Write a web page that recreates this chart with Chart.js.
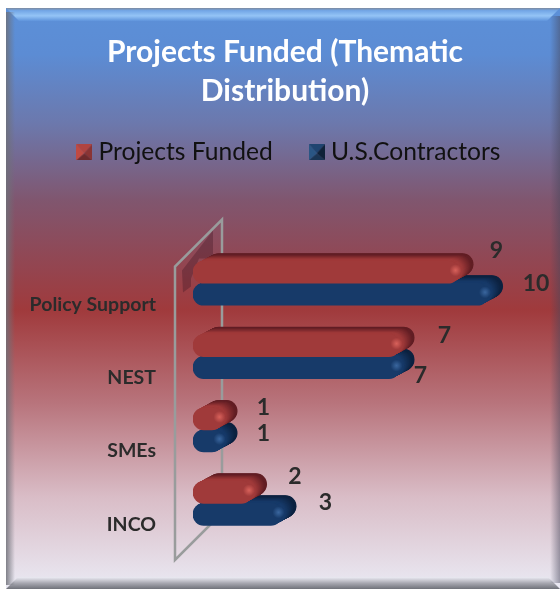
<!DOCTYPE html>
<html>
<head>
<meta charset="utf-8">
<title>Projects Funded</title>
<script src="https://cdn.jsdelivr.net/npm/chart.js@4"></script>
<style>
  html, body { margin: 0; padding: 0; background: #fff; }
  canvas { display: block; }
</style>
</head>
<body>
<canvas id="chart" width="560" height="589"></canvas>
<script>
const categories = ["Policy Support", "NEST", "SMEs", "INCO"];
const projectsFunded = [9, 7, 1, 2];
const usContractors = [10, 7, 1, 3];
const seriesNames = ["Projects Funded", "U.S.Contractors"];

// label nudges from the end of each bar, the original chart places them by hand
const labelNudges = [
  [[23, -22], [30, -10], [26, -11], [28, -16]],
  [[33, -11], [6, 8], [26, -7], [29, -12]]
];

const depthX = 15;
const depthY = 8;

const palette = [
  { front: [160, 58, 58], edge: [98, 30, 36], glow: "226,104,96" },
  { front: [23, 58, 105], edge: [12, 34, 64], glow: "64,110,168" }
];

// small pyramid marker for the legend
function legendMarker(light, mid, dark, side) {
  const c = document.createElement("canvas");
  c.width = c.height = 16;
  const g = c.getContext("2d");
  const tri = (x1, y1, x2, y2, col) => {
    g.fillStyle = col;
    g.beginPath();
    g.moveTo(x1, y1);
    g.lineTo(x2, y2);
    g.lineTo(8, 9);
    g.closePath();
    g.fill();
  };
  tri(0, 0, 16, 0, mid);
  tri(16, 0, 16, 16, side);
  tri(16, 16, 0, 16, dark);
  tri(0, 16, 0, 0, light);
  return c;
}
const markers = [
  legendMarker("#c04a42", "#b04440", "#6e2a2c", "#8a3434"),
  legendMarker("#2a5684", "#1f4470", "#1a3554", "#0f2238")
];

const mix = (a, b, t) =>
  "rgb(" + a.map((v, i) => Math.round(v + (b[i] - v) * t)).join(",") + ")";

const panelPlugin = {
  id: "panel",
  afterLayout(chart) {
    // the original legend sits a little right of the title
    chart.legend.left += 12.6;
  },
  beforeDraw(chart) {
    const ctx = chart.ctx;
    const L = 6, T = 8, R = 560, B = 589, bev = 13;
    const bg = ctx.createLinearGradient(0, T, 0, B);
    bg.addColorStop(0, "#5c90d8");
    bg.addColorStop(0.08, "#5c8cd4");
    bg.addColorStop(0.2, "#6c78ac");
    bg.addColorStop(0.33, "#80566f");
    bg.addColorStop(0.52, "#a03a3c");
    bg.addColorStop(0.68, "#b8747c");
    bg.addColorStop(0.84, "#d9bcc6");
    bg.addColorStop(1, "#eaeaf4");
    ctx.save();
    ctx.fillStyle = bg;
    ctx.fillRect(L, T, R - L, B - T);

    // top bevel
    const top = ctx.createLinearGradient(0, T, 0, T + bev);
    top.addColorStop(0, "#7e8a9e");
    top.addColorStop(0.2, "#72a6e6");
    top.addColorStop(0.6, "#94c4f6");
    top.addColorStop(1, "#5f94dc");
    ctx.fillStyle = top;
    ctx.beginPath();
    ctx.moveTo(L, T);
    ctx.lineTo(R, T);
    ctx.lineTo(R - bev, T + bev);
    ctx.lineTo(L + bev, T + bev);
    ctx.closePath();
    ctx.fill();

    // bottom bevel
    const bot = ctx.createLinearGradient(0, B - 12, 0, B);
    bot.addColorStop(0, "rgba(236,236,244,0.9)");
    bot.addColorStop(0.5, "#a9a9b2");
    bot.addColorStop(1, "#70727a");
    ctx.fillStyle = bot;
    ctx.beginPath();
    ctx.moveTo(L, B);
    ctx.lineTo(R, B);
    ctx.lineTo(R - 12, B - 12);
    ctx.lineTo(L + 12, B - 12);
    ctx.closePath();
    ctx.fill();

    // side bevels
    const left = ctx.createLinearGradient(L, 0, L + 9, 0);
    left.addColorStop(0, "rgba(110,112,120,0.85)");
    left.addColorStop(1, "rgba(110,112,120,0)");
    ctx.fillStyle = left;
    ctx.fillRect(L, T + 4, 9, B - T - 8);
    const right = ctx.createLinearGradient(R - 10, 0, R, 0);
    right.addColorStop(0, "rgba(70,70,90,0)");
    right.addColorStop(1, "rgba(70,70,90,0.5)");
    ctx.fillStyle = right;
    ctx.fillRect(R - 10, T + 8, 10, B - T - 14);
    ctx.restore();
  },
  beforeDatasetsDraw(chart) {
    // 3D wall behind the bars, hung off the chart area
    const ctx = chart.ctx;
    const a = chart.chartArea;
    const x0 = a.left - 18, x1 = a.left + 29;
    const yTop = a.top + 20, yBot = a.bottom + 20;
    ctx.save();
    ctx.fillStyle = "rgba(70,25,40,0.38)";
    ctx.beginPath();
    ctx.moveTo(x1 - 9, yTop - 36);
    ctx.lineTo(x1 - 9, a.top + 12);
    ctx.lineTo(a.left + 6, a.top + 12);
    ctx.lineTo(a.left - 2, a.top + 32);
    ctx.lineTo(a.left - 2, a.top + 40);
    ctx.lineTo(x0 + 8, a.top + 46);
    ctx.lineTo(x0 + 7, a.top + 24);
    ctx.closePath();
    ctx.fill();
    ctx.strokeStyle = "#999c9c";
    ctx.lineWidth = 2.5;
    ctx.lineJoin = "miter";
    ctx.beginPath();
    ctx.moveTo(x1, yBot - 47);
    ctx.lineTo(x1, yTop - 47);
    ctx.lineTo(x0, yTop);
    ctx.lineTo(x0, yBot);
    ctx.lineTo(x1, yBot - 47);
    ctx.stroke();
    ctx.restore();
  },
  beforeDatasetDraw(chart, args) {
    // extrude every bar up and to the right
    const ctx = chart.ctx;
    const colors = palette[args.index];
    chart.getDatasetMeta(args.index).data.forEach((bar) => {
      const h = bar.height;
      const w = bar.x - bar.base;
      ctx.save();
      for (let k = depthX; k > 0; k -= 0.5) {
        const t = k / depthX;
        ctx.fillStyle = mix(colors.front, colors.edge, Math.min(1, Math.max(0, (t - 0.25) / 0.6)));
        ctx.beginPath();
        ctx.roundRect(bar.base + k, bar.y - h / 2 - t * depthY, w, h, 11);
        ctx.fill();
      }
      ctx.restore();
    });
  },
  afterDatasetDraw(chart, args) {
    // shine on the front right corner
    const ctx = chart.ctx;
    const glow = palette[args.index].glow;
    chart.getDatasetMeta(args.index).data.forEach((bar) => {
      const cx = bar.x - 3, cy = bar.y - 2;
      const g = ctx.createRadialGradient(cx, cy, 0, cx, cy, 6);
      g.addColorStop(0, "rgba(" + glow + ",0.85)");
      g.addColorStop(1, "rgba(" + glow + ",0)");
      ctx.save();
      ctx.fillStyle = g;
      ctx.fillRect(cx - 6, cy - 6, 12, 12);
      ctx.restore();
    });
  },
  afterDatasetsDraw(chart) {
    const ctx = chart.ctx;
    ctx.save();
    ctx.font = "bold 23px Lato";
    ctx.fillStyle = "#2b2b2b";
    ctx.textAlign = "center";
    ctx.textBaseline = "middle";
    chart.data.datasets.forEach((ds, i) => {
      chart.getDatasetMeta(i).data.forEach((bar, j) => {
        const n = labelNudges[i][j];
        ctx.fillText(ds.data[j], bar.x + depthX + n[0], bar.y + n[1]);
      });
    });
    ctx.restore();
  }
};

new Chart(document.getElementById("chart"), {
  type: "bar",
  plugins: [panelPlugin],
  data: {
    labels: categories,
    datasets: [
      {
        label: seriesNames[0],
        data: projectsFunded,
        backgroundColor: mix(palette[0].front, palette[0].front, 0),
        pointStyle: markers[0],
        barThickness: 22,
        borderRadius: 11,
        borderSkipped: false
      },
      {
        label: seriesNames[1],
        data: usContractors,
        backgroundColor: mix(palette[1].front, palette[1].front, 0),
        pointStyle: markers[1],
        barThickness: 22,
        borderRadius: 11,
        borderSkipped: false
      }
    ]
  },
  options: {
    indexAxis: "y",
    responsive: false,
    animation: false,
    layout: { padding: { left: 10, right: 0, top: 33, bottom: 49 } },
    plugins: {
      tooltip: { enabled: false },
      title: {
        display: true,
        text: ["Projects Funded (Thematic", "Distribution)"],
        color: "#ffffff",
        font: { family: "Lato", size: 30, weight: "bold", lineHeight: 1.3 },
        padding: { top: 0, bottom: -13 }
      },
      legend: {
        position: "top",
        labels: {
          usePointStyle: true,
          pointStyleWidth: 4,
          color: "#111111",
          font: { family: "Lato", size: 24.6 },
          boxHeight: 16,
          padding: 42
        }
      }
    },
    scales: {
      x: {
        position: "top",
        min: 0,
        max: 12.44,
        grid: { display: false },
        border: { display: false },
        ticks: { display: false },
        // keeps the empty band between legend and plot
        afterFit(scale) { scale.height = 72; }
      },
      y: {
        grid: { display: false, drawTicks: false },
        border: { display: false },
        afterFit(scale) { scale.width = 183; },
        ticks: {
          color: "#2b2b2b",
          font: { family: "Lato", size: 19.5, weight: "bold" },
          padding: 37,
          labelOffset: 21
        }
      }
    }
  }
});
</script>
</body>
</html>
